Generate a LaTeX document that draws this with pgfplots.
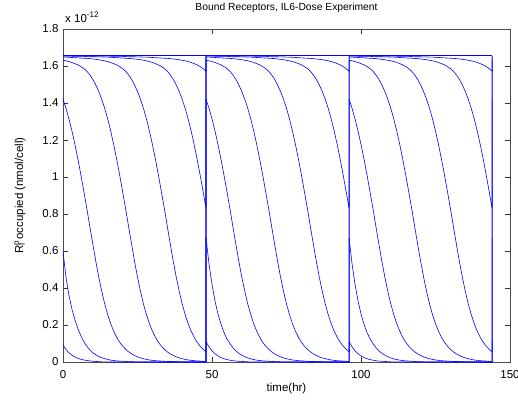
\documentclass[border=0pt]{standalone}
\usepackage{fontspec}
\setmainfont{Liberation Sans}
\usepackage{pgfplots}
\pgfplotsset{compat=1.18}
\usepackage{pgfplotstable}

% one dosing period (0..48 h); last row = jump to the next dose level
\pgfplotstableread{
t A B C D E F G
0 0.110 0.670 1.420 1.631 1.648 1.653 1.655
1 0.082 0.530 1.371 1.628 1.648 1.653 1.655
2 0.060 0.420 1.314 1.624 1.647 1.653 1.655
3 0.045 0.330 1.249 1.619 1.646 1.653 1.655
4 0.033 0.260 1.176 1.613 1.645 1.652 1.655
5 0.024 0.205 1.097 1.606 1.644 1.652 1.655
6 0.018 0.160 1.012 1.597 1.643 1.652 1.655
7 0.013 0.126 0.922 1.586 1.642 1.652 1.655
8 0.010 0.100 0.830 1.572 1.641 1.651 1.655
9 0.007 0.078 0.733 1.552 1.640 1.650 1.654
10 0.005 0.060 0.638 1.528 1.638 1.650 1.654
11 0.004 0.047 0.545 1.498 1.636 1.650 1.654
12 0.003 0.037 0.459 1.462 1.634 1.649 1.654
13 0.002 0.029 0.382 1.420 1.631 1.649 1.653
14 0.001 0.022 0.314 1.371 1.628 1.648 1.653
15 0.001 0.017 0.256 1.314 1.624 1.648 1.653
16 0.000 0.013 0.207 1.249 1.619 1.647 1.653
17 0.000 0.010 0.167 1.176 1.613 1.646 1.652
18 0.000 0.008 0.134 1.097 1.606 1.645 1.652
19 0.000 0.006 0.107 1.012 1.597 1.644 1.652
20 0.000 0.005 0.086 0.922 1.586 1.643 1.652
21 0.000 0.004 0.069 0.830 1.572 1.642 1.651
22 0.000 0.003 0.055 0.733 1.552 1.641 1.650
23 0.000 0.002 0.044 0.638 1.528 1.640 1.650
24 0.000 0.002 0.035 0.545 1.498 1.638 1.650
25 0.000 0.001 0.028 0.459 1.462 1.636 1.649
26 0.000 0.001 0.022 0.382 1.420 1.634 1.649
27 0.000 0.000 0.018 0.314 1.371 1.631 1.648
28 0.000 0.000 0.014 0.256 1.314 1.628 1.648
29 0.000 0.000 0.011 0.207 1.249 1.624 1.647
30 0.000 0.000 0.009 0.167 1.176 1.619 1.646
31 0.000 0.000 0.007 0.134 1.097 1.613 1.645
32 0.000 0.000 0.006 0.107 1.012 1.606 1.644
33 0.000 0.000 0.005 0.086 0.922 1.597 1.643
34 0.000 0.000 0.004 0.069 0.830 1.586 1.642
35 0.000 0.000 0.003 0.055 0.733 1.572 1.641
36 0.000 0.000 0.003 0.044 0.638 1.552 1.640
37 0.000 0.000 0.002 0.035 0.545 1.528 1.638
38 0.000 0.000 0.002 0.028 0.459 1.498 1.636
39 0.000 0.000 0.001 0.022 0.382 1.462 1.634
40 0.000 0.000 0.001 0.018 0.314 1.420 1.631
41 0.000 0.000 0.001 0.014 0.256 1.371 1.628
42 0.000 0.000 0.001 0.011 0.207 1.314 1.624
43 0.000 0.000 0.001 0.009 0.167 1.249 1.619
44 0.000 0.000 0.000 0.007 0.134 1.176 1.613
45 0.000 0.000 0.000 0.006 0.107 1.097 1.606
46 0.000 0.000 0.000 0.005 0.086 1.012 1.597
47 0.000 0.000 0.000 0.004 0.069 0.922 1.586
48 0.000 0.000 0.000 0.003 0.055 0.830 1.572
48 0.110 0.670 1.420 1.631 1.648 1.653 1.655
}\tblper

% first period, the two lowest doses
\pgfplotstableread{
t A B
0 0.092 0.596
1 0.068 0.460
2 0.050 0.360
3 0.037 0.285
4 0.027 0.228
5 0.020 0.180
6 0.015 0.142
7 0.011 0.110
8 0.008 0.085
9 0.006 0.066
10 0.004 0.050
11 0.003 0.039
12 0.002 0.030
13 0.001 0.023
14 0.001 0.018
15 0.000 0.014
16 0.000 0.010
17 0.000 0.008
18 0.000 0.006
19 0.000 0.005
20 0.000 0.004
21 0.000 0.003
22 0.000 0.002
24 0.000 0.001
26 0.000 0.000
48 0.000 0.000
48 0.110 0.670
}\tblfirst

\tikzset{curve/.style={color={rgb,1:red,0;green,0;blue,1}, line width=0.6pt, mark=none}}

\begin{document}
\begin{tikzpicture}
\useasboundingbox (-63pt,-43pt) rectangle (455pt,362pt);
\begin{axis}[
  at={(0pt,0pt)}, anchor=south west,
  scale only axis, width=447pt, height=333pt,
  xmin=0, xmax=150, ymin=0, ymax=1.8,
  xtick={0,50,100,150},
  xticklabels={0,50,100,150},
  ytick={0,0.2,0.4,0.6,0.8,1,1.2,1.4,1.6,1.8},
  yticklabels={0,0.2,0.4,0.6,0.8,1,1.2,1.4,1.6,1.8},
  /pgf/number format/assume math mode=true,
  tick align=inside,
  major tick length=5pt,
  axis line style={black!70, line width=0.5pt},
  every tick/.style={black!80, line width=0.5pt},
  tick label style={font=\fontsize{11.5}{13}\selectfont},
  yticklabel style={xshift=-1pt},
  xticklabel style={anchor=base, yshift=-16pt},
  title={Bound Receptors, IL6-Dose Experiment},
  title style={font=\fontsize{10.3}{12}\selectfont, at={(axis description cs:0.5,1)}, anchor=base, yshift=13pt},
  xlabel={time(hr)},
  xlabel style={font=\fontsize{11.5}{13}\selectfont, at={(axis description cs:0.5,0)}, anchor=base, yshift=-29pt},
  ylabel={R\rlap{\textsuperscript{p}}\textsubscript{I} occupied (nmol/cell)},
  ylabel style={font=\fontsize{11.5}{13}\selectfont, at={(axis description cs:0,0.5)}, anchor=center, yshift=43pt},
  clip=false,
]
\addplot[curve] table[x=t, y=A] {\tblfirst};
\addplot[curve] table[x=t, y=B] {\tblfirst};
\addplot[curve] table[x expr=\thisrow{t}+48, y=A] {\tblper};
\addplot[curve] table[x expr=\thisrow{t}+48, y=B] {\tblper};
\addplot[curve] table[x expr=\thisrow{t}+96, y=A] {\tblper};
\addplot[curve] table[x expr=\thisrow{t}+96, y=B] {\tblper};
\pgfplotsinvokeforeach{C,D,E,F,G}{
  \addplot[curve] table[x=t, y=#1] {\tblper};
  \addplot[curve] table[x expr=\thisrow{t}+48, y=#1] {\tblper};
  \addplot[curve] table[x expr=\thisrow{t}+96, y=#1] {\tblper};
}
\addplot[curve] coordinates {(0,1.66) (144,1.66)};
\node[anchor=base west, font=\fontsize{11.5}{13}\selectfont, inner sep=0pt] at (rel axis cs:0,1) [xshift=2pt, yshift=7pt] {x 10\textsuperscript{-12}};
\end{axis}
\end{tikzpicture}
\end{document}
